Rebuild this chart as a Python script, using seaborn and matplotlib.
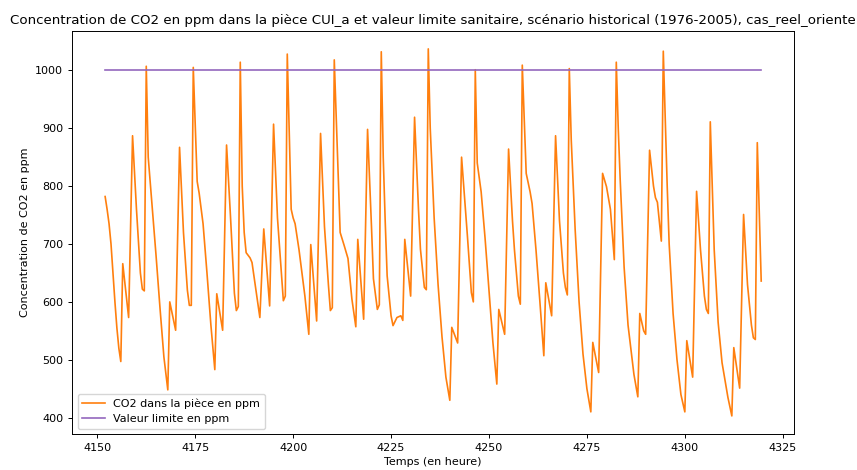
import pandas as pd
import matplotlib
matplotlib.use('Agg')
import matplotlib.pyplot as plt
import seaborn as sns

# Série temporelle (pas d'une demi-heure, sommets)
heures = [
    4152.0, 4152.5, 4153.0, 4153.5, 4154.0, 4154.5, 4155.0, 4155.5, 4156.0, 4156.5,
    4158.0, 4159.0, 4160.0, 4161.0, 4161.5, 4162.0, 4162.5, 4163.0, 4164.0, 4165.0,
    4166.0, 4167.0, 4168.0, 4168.5, 4170.0, 4171.0, 4172.0, 4173.0, 4173.5, 4174.0,
    4174.5, 4175.5, 4176.0, 4177.0, 4178.0, 4179.0, 4180.0, 4180.5, 4182.0, 4183.0,
    4184.0, 4185.0, 4185.5, 4186.0, 4186.5, 4187.0, 4187.5, 4188.0, 4189.0, 4189.5,
    4190.5, 4191.5, 4192.5, 4194.0, 4195.0, 4196.0, 4197.0, 4197.5, 4198.0, 4198.5,
    4199.5, 4200.0, 4200.5, 4201.5, 4203.0, 4204.0, 4204.5, 4206.0, 4207.0, 4208.0,
    4209.0, 4209.5, 4210.0, 4210.5, 4212.0, 4213.0, 4214.0, 4215.0, 4216.0, 4216.5,
    4218.0, 4219.0, 4220.0, 4220.5, 4221.5, 4222.0, 4222.5, 4223.0, 4223.5, 4224.0,
    4225.0, 4225.5, 4226.5, 4227.5, 4228.0, 4228.5, 4230.0, 4231.0, 4232.0, 4232.5,
    4233.5, 4234.0, 4234.5, 4235.0, 4236.0, 4237.0, 4238.0, 4239.0, 4240.0, 4240.5,
    4242.0, 4243.0, 4244.0, 4244.5, 4245.5, 4246.0, 4246.5, 4247.0, 4248.0, 4249.0,
    4250.0, 4251.0, 4252.0, 4252.5, 4254.0, 4255.0, 4256.0, 4256.5, 4257.5, 4258.0,
    4258.5, 4259.5, 4260.5, 4261.0, 4262.0, 4263.0, 4264.0, 4264.5, 4266.0, 4267.0,
    4268.0, 4269.0, 4269.5, 4270.0, 4270.5, 4271.0, 4272.0, 4273.0, 4274.0, 4275.0,
    4276.0, 4276.5, 4278.0, 4279.0, 4280.0, 4281.0, 4282.0, 4282.5, 4283.0, 4283.5,
    4284.5, 4285.5, 4287.0, 4288.0, 4288.5, 4289.5, 4290.0, 4291.0, 4292.0, 4292.5,
    4293.0, 4294.0, 4294.5, 4295.5, 4296.0, 4297.0, 4298.0, 4299.0, 4300.0, 4300.5,
    4302.0, 4303.0, 4304.0, 4305.0, 4305.5, 4306.0, 4306.5, 4307.5, 4308.5, 4309.5,
    4311.0, 4312.0, 4312.5, 4314.0, 4315.0, 4316.0, 4317.0, 4317.5, 4318.0, 4318.5,
    4319.5,
]
co2 = [
    782, 760, 735, 700, 650, 600, 555, 520, 497, 666,
    573, 887, 760, 650, 622, 619, 1007, 850, 765, 680,
    590, 505, 448, 600, 551, 867, 720, 620, 594, 594,
    1005, 808, 788, 735, 650, 560, 483, 614, 551, 871,
    748, 615, 585, 592, 1014, 800, 720, 685, 676, 668,
    620, 573, 726, 593, 907, 745, 650, 602, 610, 1028,
    760, 745, 735, 690, 610, 544, 699, 567, 891, 730,
    630, 585, 590, 1018, 720, 698, 675, 605, 557, 708,
    570, 898, 730, 640, 587, 595, 1032, 850, 740, 645,
    576, 559, 573, 576, 568, 708, 610, 919, 760, 691,
    625, 621, 1037, 900, 745, 630, 540, 470, 430, 556,
    529, 850, 760, 713, 616, 600, 1001, 840, 790, 710,
    620, 530, 458, 587, 544, 864, 740, 690, 610, 596,
    1009, 822, 790, 770, 690, 600, 507, 633, 576, 887,
    740, 650, 625, 612, 1003, 880, 725, 600, 510, 450,
    410, 530, 478, 822, 799, 760, 673, 1014, 900, 811,
    660, 560, 475, 436, 580, 550, 544, 862, 800, 780,
    772, 705, 1033, 800, 700, 580, 500, 440, 410, 533,
    470, 791, 690, 610, 587, 580, 911, 690, 565, 495,
    435, 403, 521, 451, 751, 630, 560, 538, 535, 875,
    636,
]
valeur_limite = 1000

df = pd.DataFrame({'Temps': heures, 'CO2': co2})
df['Limite'] = valeur_limite

fig = plt.figure(figsize=(8.57, 4.70), dpi=100)
ax = fig.add_axes([0.0844, 0.076, 0.8421, 0.859])

sns.lineplot(data=df, x='Temps', y='CO2', color='tab:orange', linewidth=1.2,
             label='CO2 dans la pièce en ppm', ax=ax)
sns.lineplot(data=df, x='Temps', y='Limite', color='tab:purple', linewidth=1.2,
             label='Valeur limite en ppm', ax=ax)

ax.set_title('Concentration de CO2 en ppm dans la pièce CUI_a et valeur limite sanitaire, '
             'scénario historical (1976-2005), cas_reel_oriente', fontsize=9.6, pad=5)
ax.set_xlabel('Temps (en heure)', fontsize=8, labelpad=3)
ax.set_ylabel('Concentration de CO2 en ppm', fontsize=8, labelpad=4)
ax.tick_params(labelsize=8, length=3, width=0.7)
for s in ax.spines.values():
    s.set_linewidth(0.7)
ax.legend(loc='lower left', fontsize=8)

fig.savefig('out.png', dpi=100)
